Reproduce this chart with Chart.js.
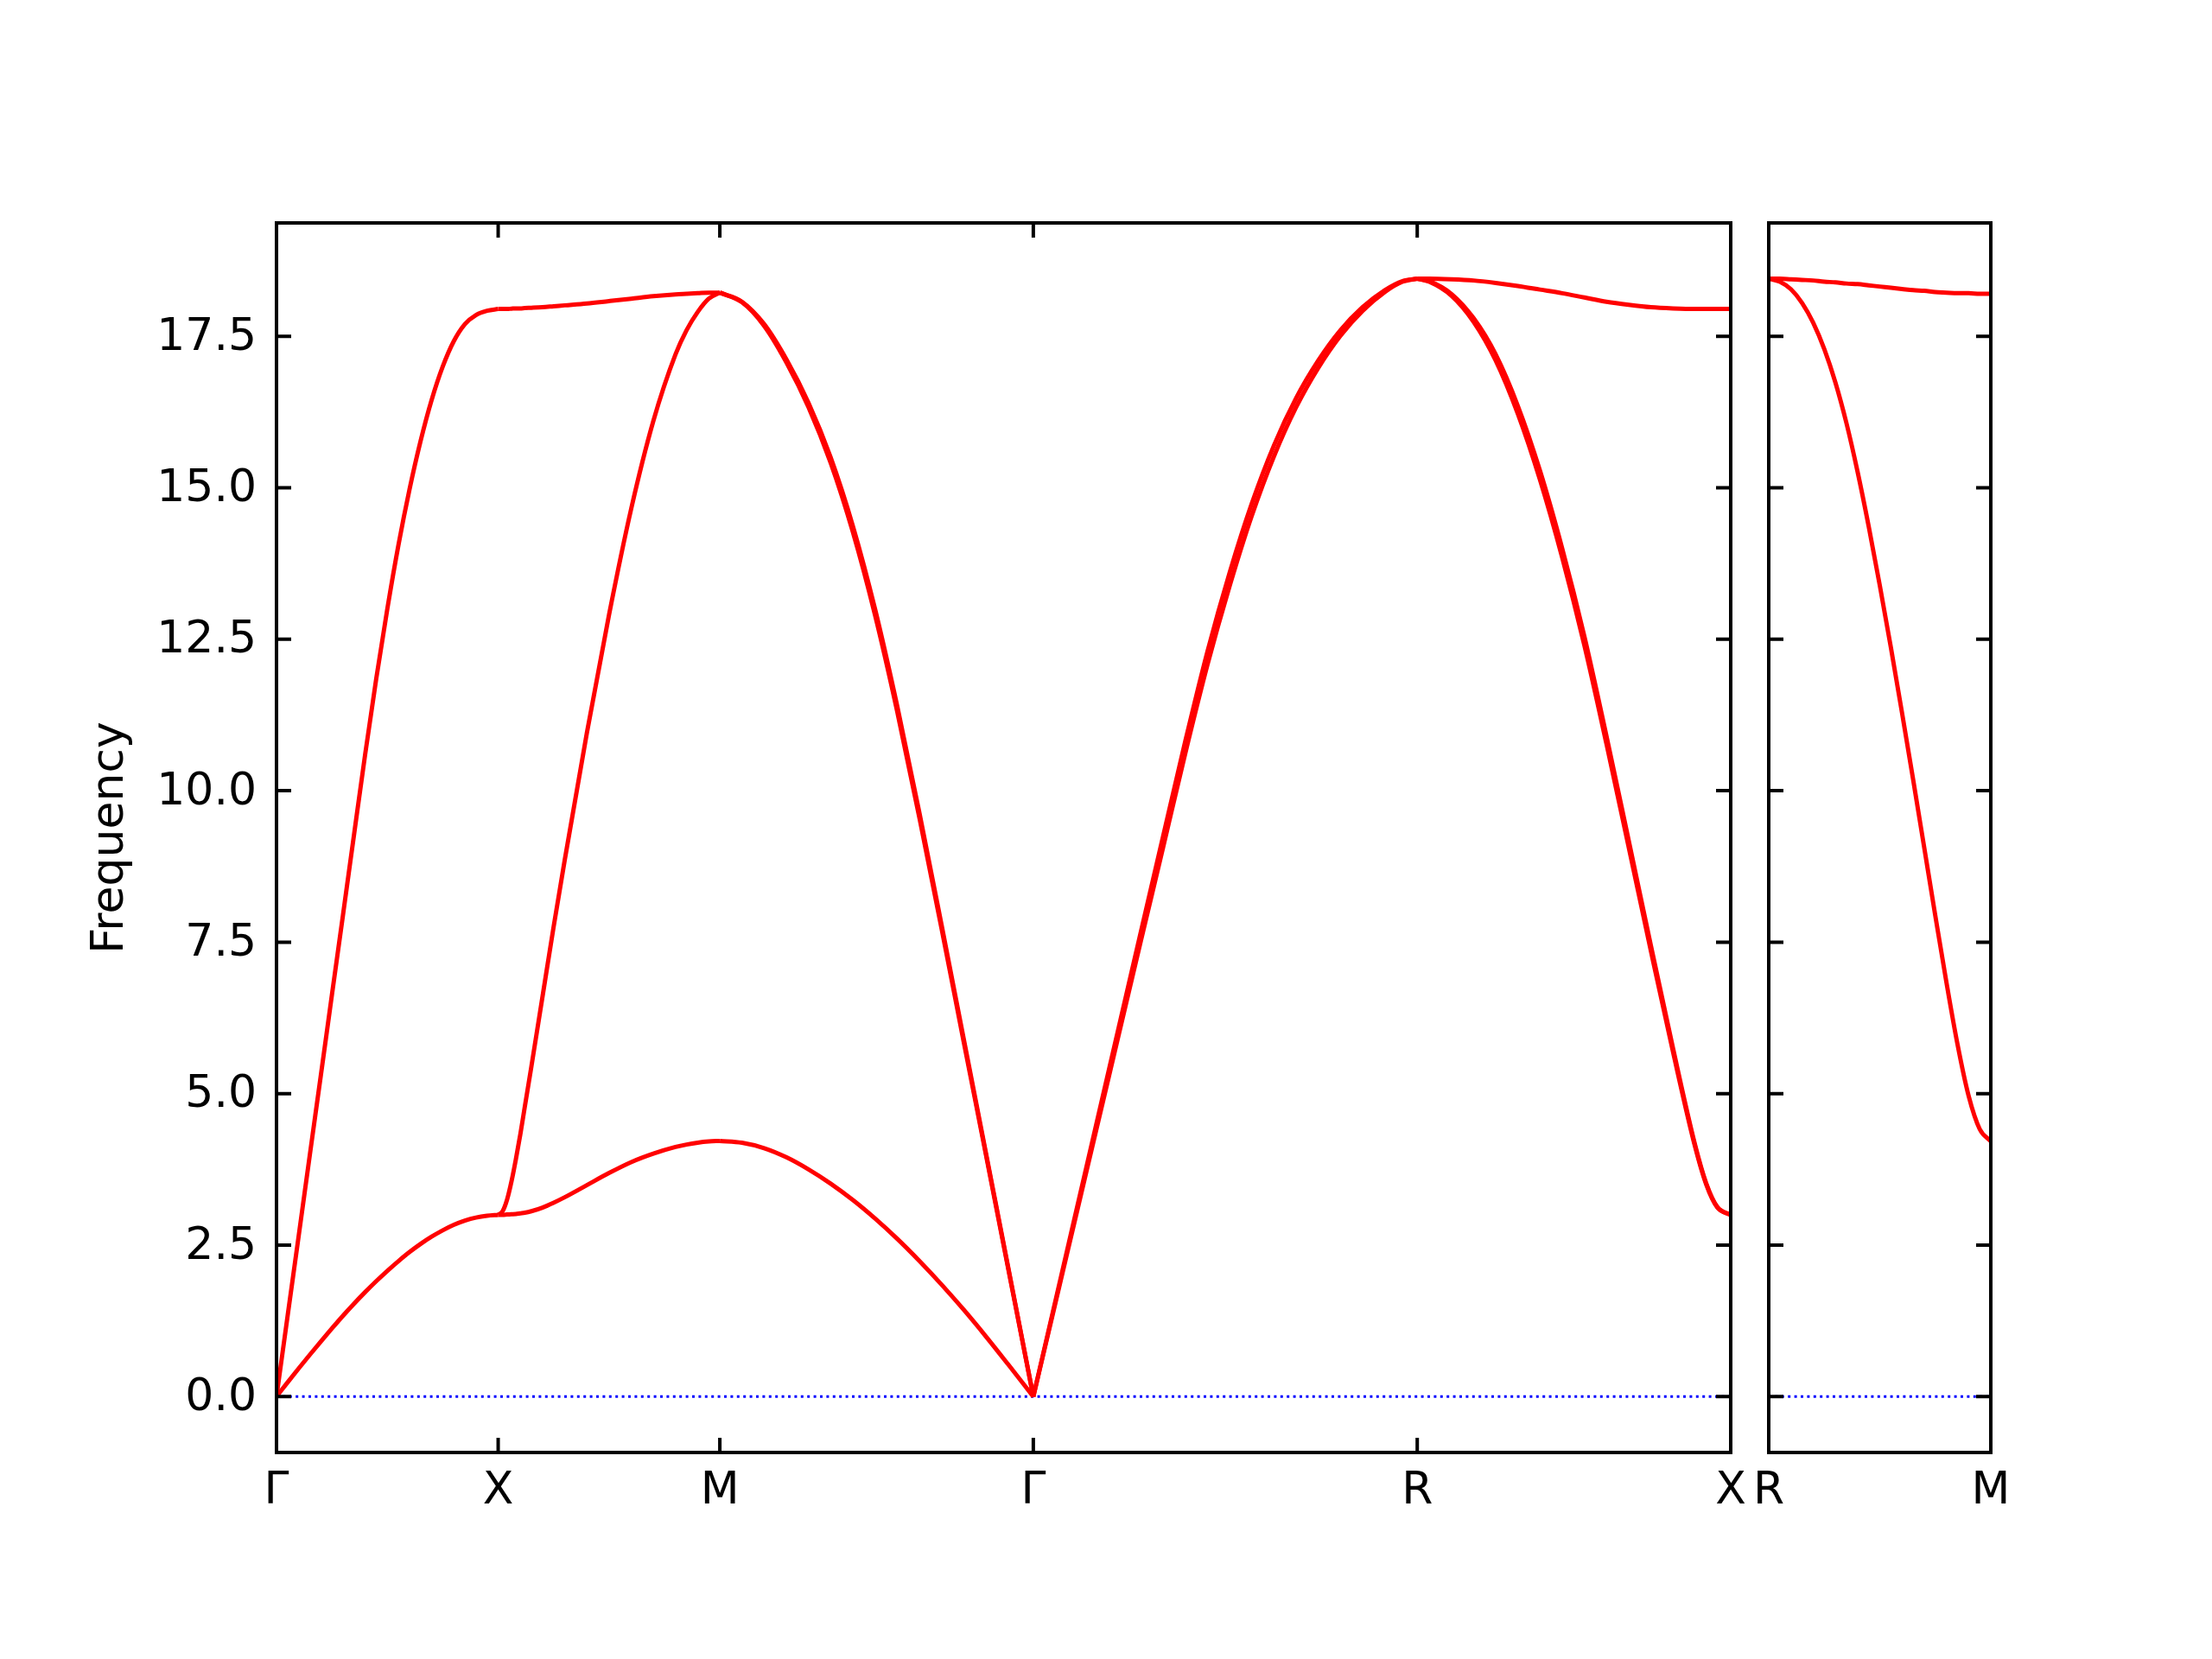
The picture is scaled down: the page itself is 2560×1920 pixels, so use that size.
<!DOCTYPE html>
<html>
<head>
<meta charset="utf-8">
<script src="https://cdn.jsdelivr.net/npm/chart.js@4.4.0/dist/chart.umd.min.js"></script>
<style>
  html, body { margin: 0; padding: 0; background: #fff; }
  #wrap { position: relative; width: 2560px; height: 1920px; }
  #main { position: absolute; left: 0; top: 0; }
  #side { position: absolute; left: 2000px; top: 0; }
</style>
</head>
<body>
<div id="wrap">
  <canvas id="main" width="2060" height="1920"></canvas>
  <canvas id="side" width="560" height="1920"></canvas>
</div>
<script>
// high-symmetry path (distances along the path)
const kMain = [0, 0.5, 1.0, 1.7071, 2.5731, 3.2802];
const kMainLabels = ['Γ', 'X', 'M', 'Γ', 'R', 'X'];
const kSide = [0, 0.5];
const kSideLabels = ['R', 'M'];
const yTicks = [0, 2.5, 5, 7.5, 10, 12.5, 15, 17.5];
const Y_MIN = -0.922;
const Y_MAX = 19.37;

// Γ - X
const qGX = [0, 0.025, 0.05, 0.075, 0.1, 0.125, 0.15, 0.175, 0.2, 0.225, 0.25, 0.275, 0.3, 0.325, 0.35, 0.375, 0.4, 0.425, 0.45, 0.475, 0.5];
const gxUpper = [0, 1.33, 2.65, 3.98, 5.3, 6.63, 7.95, 9.28, 10.6, 11.85, 13.0, 14.05, 14.97, 15.77, 16.45, 17.0, 17.42, 17.7, 17.85, 17.92, 17.95];
const gxLower = [0, 0.235, 0.465, 0.69, 0.91, 1.125, 1.335, 1.535, 1.725, 1.905, 2.075, 2.235, 2.385, 2.52, 2.64, 2.745, 2.835, 2.905, 2.955, 2.985, 3.0];

// X - M
const qXM = [0.5, 0.51, 0.52, 0.53, 0.54, 0.55, 0.56, 0.575, 0.6, 0.625, 0.65, 0.7, 0.75, 0.8, 0.85, 0.9, 0.925, 0.95, 0.975, 1.0];
const xmTop = [17.95, 17.95, 17.95, 17.955, 17.96, 17.96, 17.965, 17.97, 17.98, 17.995, 18.01, 18.04, 18.08, 18.12, 18.16, 18.19, 18.2, 18.21, 18.22, 18.22];
const xmMid = [3.0, 3.06, 3.25, 3.55, 3.92, 4.33, 4.78, 5.45, 6.6, 7.75, 8.85, 10.95, 12.9, 14.65, 16.1, 17.2, 17.6, 17.9, 18.12, 18.22];
const xmLow = [3.0, 3.0, 3.005, 3.01, 3.015, 3.025, 3.035, 3.06, 3.12, 3.2, 3.29, 3.49, 3.69, 3.87, 4.01, 4.12, 4.16, 4.19, 4.21, 4.22];

// M - Γ
const qMG = [1.0, 1.05, 1.1, 1.15, 1.2, 1.25, 1.3, 1.35, 1.4, 1.45, 1.5, 1.55, 1.6, 1.65, 1.7071];
const mgTopA = [18.22, 18.07, 17.7, 17.12, 16.4, 15.5, 14.37, 13.0, 11.4, 9.64, 7.79, 5.91, 4.03, 2.15, 0];
const mgTopB = [18.22, 18.06, 17.67, 17.07, 16.33, 15.41, 14.27, 12.9, 11.31, 9.56, 7.73, 5.86, 4.0, 2.13, 0];
const mgLow = [4.22, 4.19, 4.1, 3.95, 3.75, 3.515, 3.245, 2.94, 2.605, 2.24, 1.85, 1.435, 0.995, 0.535, 0];

// Γ - R
const qGR = [1.7071, 1.75, 1.8, 1.85, 1.9, 1.95, 2.0, 2.05, 2.1, 2.15, 2.2, 2.25, 2.3, 2.35, 2.4, 2.45, 2.5, 2.54, 2.5731];
const grA = [0, 1.36, 2.94, 4.52, 6.1, 7.68, 9.25, 10.82, 12.3, 13.6, 14.74, 15.7, 16.48, 17.1, 17.6, 17.98, 18.26, 18.41, 18.45];
const grB = [0, 1.33, 2.88, 4.43, 5.98, 7.53, 9.07, 10.62, 12.08, 13.38, 14.54, 15.52, 16.33, 16.98, 17.51, 17.92, 18.23, 18.4, 18.45];

// R - X
const qRX = [2.5731, 2.6, 2.65, 2.7, 2.75, 2.8, 2.85, 2.9, 2.95, 3.0, 3.05, 3.1, 3.15, 3.2, 3.225, 3.25, 3.2802];
const rxTop = [18.45, 18.45, 18.44, 18.42, 18.38, 18.33, 18.27, 18.21, 18.14, 18.07, 18.02, 17.98, 17.96, 17.95, 17.95, 17.95, 17.95];
const rxA = [18.45, 18.41, 18.2, 17.8, 17.2, 16.35, 15.28, 14.0, 12.55, 10.9, 9.18, 7.45, 5.75, 4.15, 3.52, 3.13, 3.0];
const rxB = [18.45, 18.4, 18.17, 17.74, 17.1, 16.22, 15.13, 13.85, 12.4, 10.77, 9.07, 7.36, 5.69, 4.12, 3.5, 3.12, 3.0];

// R - M (second panel)
const qRM = [0, 0.025, 0.05, 0.075, 0.1, 0.125, 0.15, 0.175, 0.2, 0.225, 0.25, 0.275, 0.3, 0.325, 0.35, 0.375, 0.4, 0.425, 0.45, 0.475, 0.5];
const rmTop = [18.45, 18.45, 18.44, 18.43, 18.42, 18.4, 18.39, 18.37, 18.36, 18.34, 18.32, 18.3, 18.28, 18.26, 18.25, 18.23, 18.22, 18.21, 18.21, 18.2, 18.2];
const rmDown = [18.45, 18.4, 18.275, 18.05, 17.725, 17.29, 16.74, 16.065, 15.265, 14.365, 13.39, 12.365, 11.29, 10.19, 9.065, 7.94, 6.84, 5.815, 4.965, 4.415, 4.215];

const FONT = { family: 'DejaVu Sans', size: 52 };

function band(q, w) {
  return {
    data: q.map((x, i) => ({ x: x, y: w[i] })),
    borderColor: '#ff0000',
    borderWidth: 5,
    cubicInterpolationMode: 'monotone',
    pointRadius: 0,
    fill: false
  };
}

function zeroLine(xmax) {
  return {
    data: [{ x: 0, y: 0 }, { x: xmax, y: 0 }],
    borderColor: '#0000ff',
    borderWidth: 3,
    borderDash: [3, 4.4],
    pointRadius: 0,
    fill: false
  };
}

// box with inward ticks on every side, like the original
const framePlugin = {
  id: 'frame',
  afterDraw(chart) {
    const { ctx, chartArea: a, scales } = chart;
    const x = scales.x, y = scales.y;
    const len = 17;
    ctx.save();
    ctx.strokeStyle = '#000';
    ctx.lineWidth = 4;
    ctx.beginPath();
    y.ticks.forEach(t => {
      const py = y.getPixelForValue(t.value);
      ctx.moveTo(a.left, py); ctx.lineTo(a.left + len, py);
      ctx.moveTo(a.right, py); ctx.lineTo(a.right - len, py);
    });
    x.ticks.forEach(t => {
      const px = x.getPixelForValue(t.value);
      ctx.moveTo(px, a.bottom); ctx.lineTo(px, a.bottom - len);
      ctx.moveTo(px, a.top); ctx.lineTo(px, a.top + len);
    });
    ctx.stroke();
    ctx.strokeRect(a.left, a.top, a.right - a.left, a.bottom - a.top);
    ctx.restore();
  }
};

function xScale(ticks, labels) {
  return {
    type: 'linear',
    min: ticks[0],
    max: ticks[ticks.length - 1],
    afterBuildTicks: s => { s.ticks = ticks.map(v => ({ value: v })); },
    afterFit: s => { s.height = 239; },
    grid: { display: false, drawTicks: false },
    border: { display: false },
    ticks: {
      autoSkip: false,
      maxRotation: 0,
      padding: 14,
      color: '#000',
      font: FONT,
      callback: (v, i) => labels[i]
    }
  };
}

const mainBands = [
  band(qGX, gxUpper), band(qGX, gxLower),
  band(qXM, xmTop), band(qXM, xmMid), band(qXM, xmLow),
  band(qMG, mgTopA), band(qMG, mgTopB), band(qMG, mgLow),
  band(qGR, grA), band(qGR, grB),
  band(qRX, rxTop), band(qRX, rxA), band(qRX, rxB),
  zeroLine(kMain[kMain.length - 1])
];

new Chart(document.getElementById('main'), {
  type: 'line',
  data: { datasets: mainBands },
  options: {
    responsive: false,
    animation: false,
    devicePixelRatio: 1,
    layout: { padding: { top: 258, right: 57, bottom: 0, left: 0 } },
    plugins: { legend: { display: false }, tooltip: { enabled: false } },
    scales: {
      x: xScale(kMain, kMainLabels),
      y: {
        type: 'linear',
        min: Y_MIN,
        max: Y_MAX,
        afterBuildTicks: s => { s.ticks = yTicks.map(v => ({ value: v })); },
        afterFit: s => { s.width = 320; },
        grid: { display: false, drawTicks: false },
        border: { display: false },
        ticks: {
          padding: 23,
          labelOffset: 2,
          color: '#000',
          font: FONT,
          callback: v => Number(v).toFixed(1)
        },
        title: {
          display: true,
          text: 'Frequency',
          color: '#000',
          font: FONT,
          padding: { top: 97, bottom: 0 }
        }
      }
    }
  },
  plugins: [framePlugin]
});

new Chart(document.getElementById('side'), {
  type: 'line',
  data: { datasets: [band(qRM, rmTop), band(qRM, rmDown), zeroLine(kSide[1])] },
  options: {
    responsive: false,
    animation: false,
    devicePixelRatio: 1,
    layout: { padding: { top: 258, right: 256, bottom: 0, left: 0 } },
    plugins: { legend: { display: false }, tooltip: { enabled: false } },
    scales: {
      x: xScale(kSide, kSideLabels),
      y: {
        type: 'linear',
        min: Y_MIN,
        max: Y_MAX,
        afterBuildTicks: s => { s.ticks = yTicks.map(v => ({ value: v })); },
        afterFit: s => { s.width = 47; },
        grid: { display: false, drawTicks: false },
        border: { display: false },
        ticks: { display: false }
      }
    }
  },
  plugins: [framePlugin]
});
</script>
</body>
</html>
